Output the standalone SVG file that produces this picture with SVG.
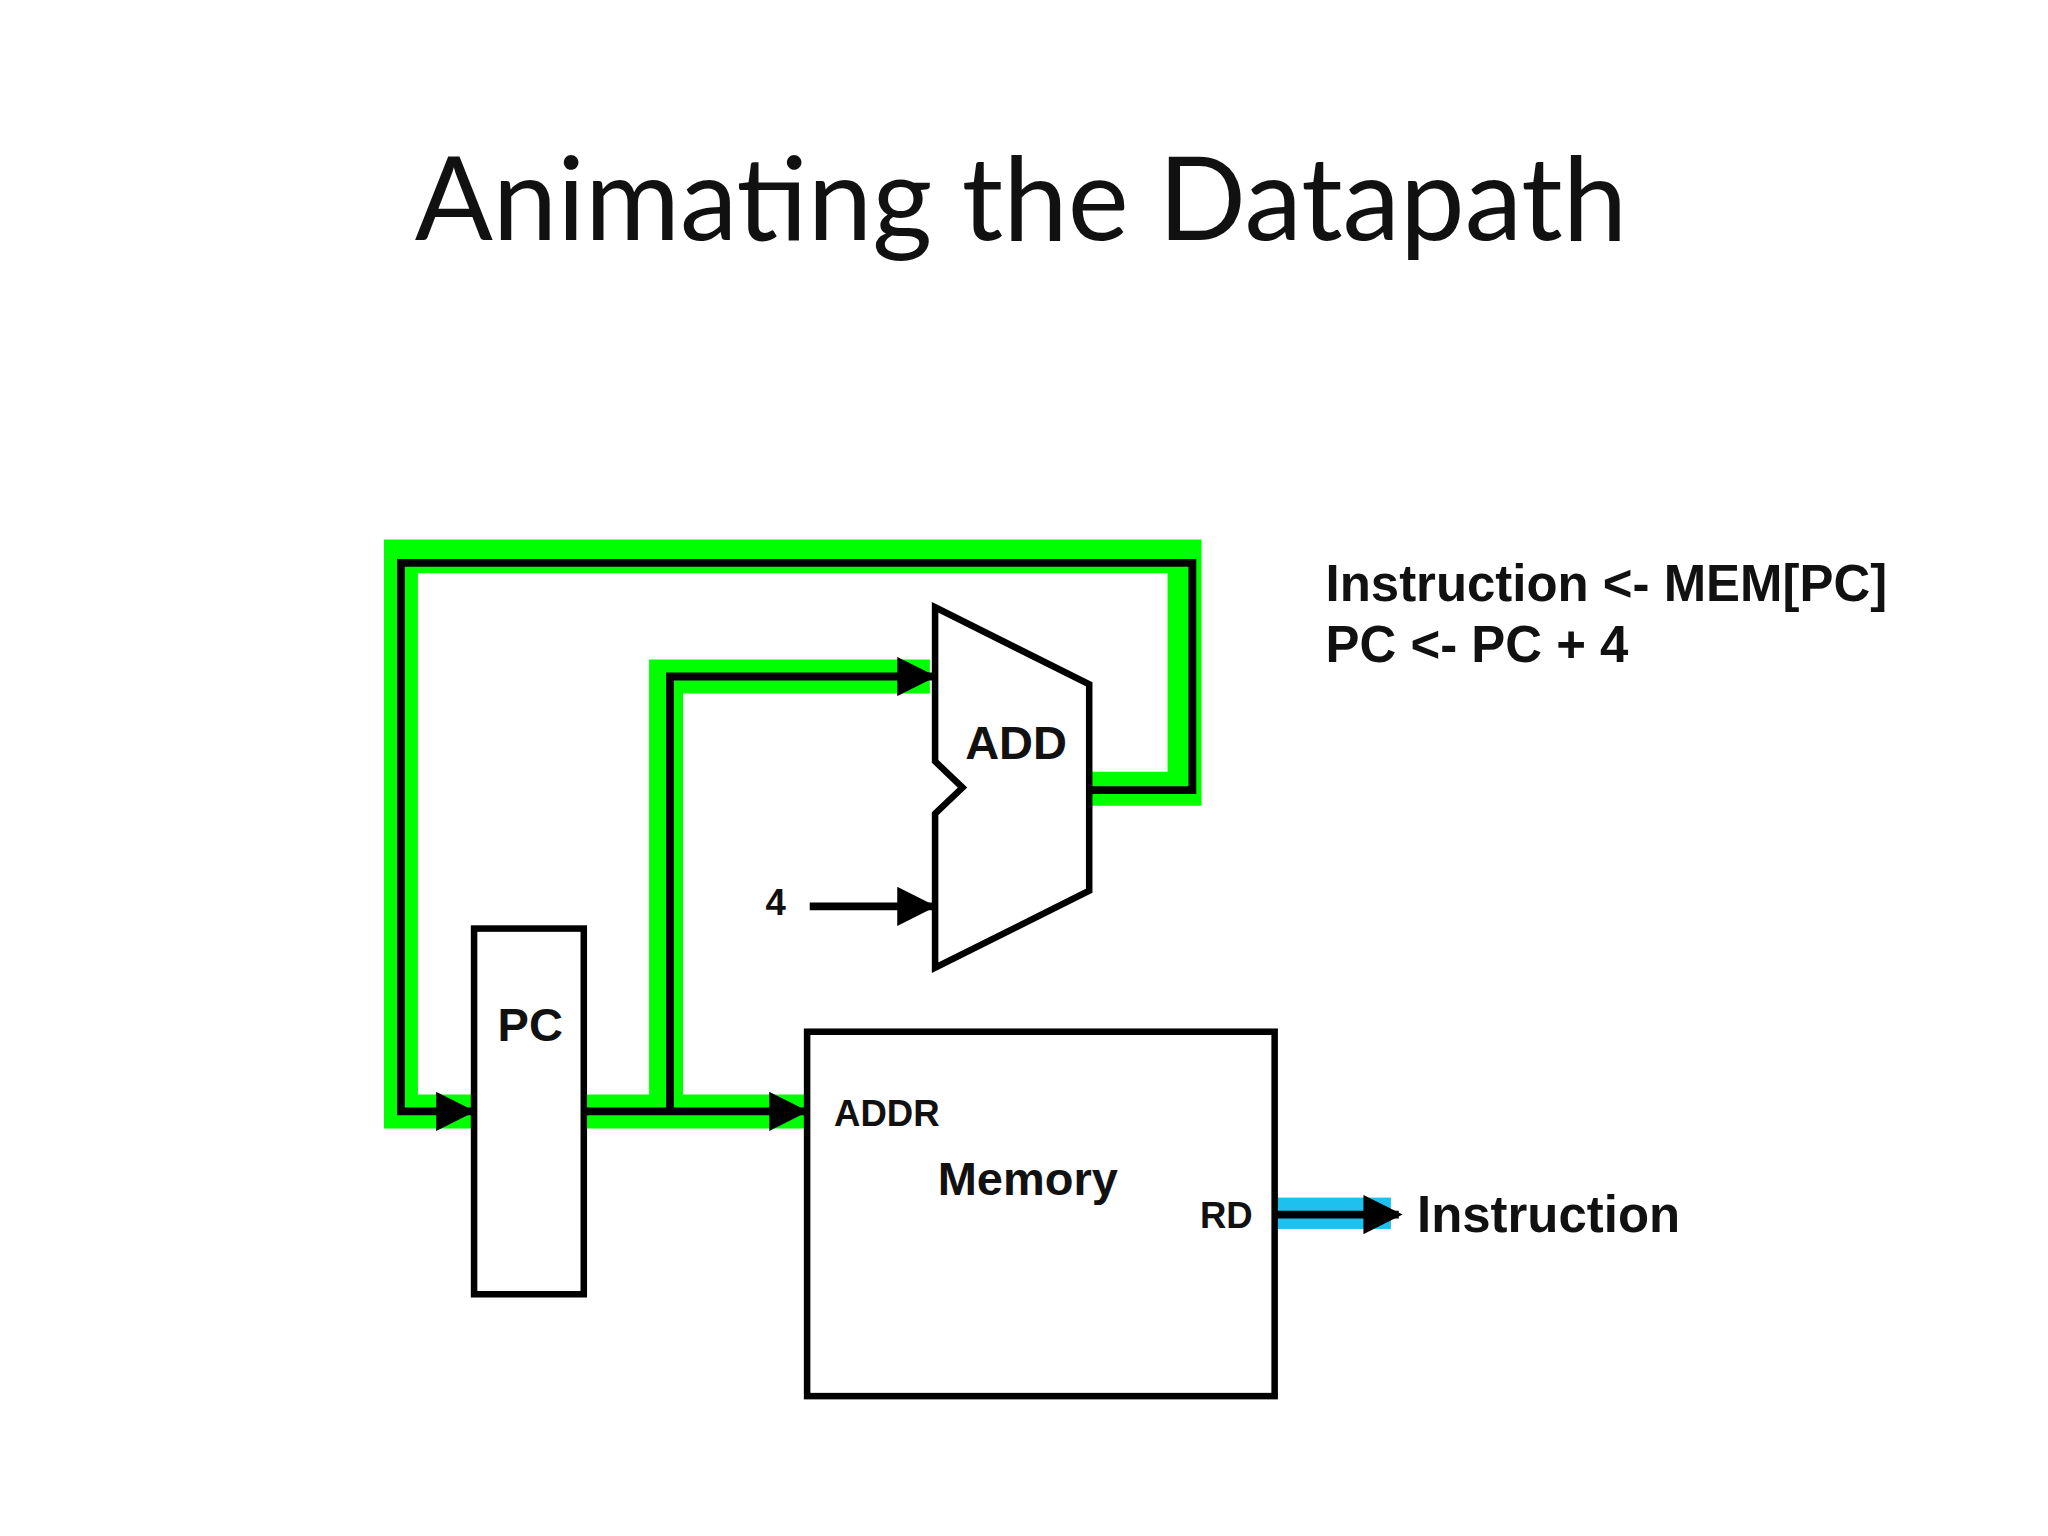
<svg xmlns="http://www.w3.org/2000/svg" width="2048" height="1536" viewBox="0 0 2048 1536">
<style>
.w{fill:none;stroke:#000;stroke-width:6;stroke-linejoin:miter}
.g{fill:none;stroke:#00ff00;stroke-width:26}
.b{fill:#fff;stroke:#000;stroke-width:5}
.t{font-family:"Liberation Sans",Arial,sans-serif;font-weight:bold;fill:#111}
</style>
<defs>
<marker id="ah" markerWidth="5" markerHeight="5" refX="4.5" refY="2.5" orient="auto" markerUnits="strokeWidth">
<path d="M0,0 L5,2.5 L0,5 Z" fill="#000"/>
</marker>
</defs>
<rect width="2048" height="1536" fill="#fff"/>
<text x="1021" y="240" text-anchor="middle" font-family="Lato,'Open Sans',sans-serif" font-size="115.5" fill="#111">Animating the Datapath</text>
<g transform="scale(1.306)">
<g id="highlights">
<path class="g" d="M620,851 L307,851 L307,426 L907,426 L907,604 L835,604"/>
<path class="g" d="M510,851 L510,518 L712,518"/>
<rect x="978" y="917" width="87" height="24" fill="#1ec0ee"/>
</g>
<g id="connectors">
<path class="w" d="M835,605 L913,605 L913,431 L307,431 L307,851 L361,851" marker-end="url(#ah)"/>
<path class="w" d="M445,851 L616,851" marker-end="url(#ah)"/>
<path class="w" d="M513,851 L513,518 L714,518" marker-end="url(#ah)"/>
<path class="w" d="M620,694 L714,694" marker-end="url(#ah)"/>
<path class="w" d="M974,930 L1071,930" marker-end="url(#ah)"/>
</g>
<g id="add">
<path class="b" d="M716,465 L834,524 L834,682 L716,741 L716,623 L737,603 L716,583 Z"/>
<text class="t" x="778" y="581" font-size="36" text-anchor="middle">ADD</text>
</g>
<g id="four"><text class="t" x="594" y="701" font-size="28" text-anchor="middle">4</text></g>
<g id="pc">
<rect class="b" x="363" y="711" width="84" height="280"/>
<text class="t" x="406" y="797" font-size="36" text-anchor="middle">PC</text>
</g>
<g id="memory">
<rect class="b" x="618" y="790" width="358" height="279"/>
<text class="t" x="679" y="862" font-size="28" text-anchor="middle">ADDR</text>
<text class="t" x="787" y="915" font-size="36" text-anchor="middle">Memory</text>
<text class="t" x="939" y="940" font-size="28" text-anchor="middle">RD</text>
</g>
<g id="labels">
<text class="t" x="1085" y="943" font-size="39">Instruction</text>
<text class="t" x="1015" y="460" font-size="39">Instruction &lt;- MEM[PC]</text>
<text class="t" x="1015" y="507" font-size="39">PC &lt;- PC + 4</text>
</g>
</g>
</svg>
